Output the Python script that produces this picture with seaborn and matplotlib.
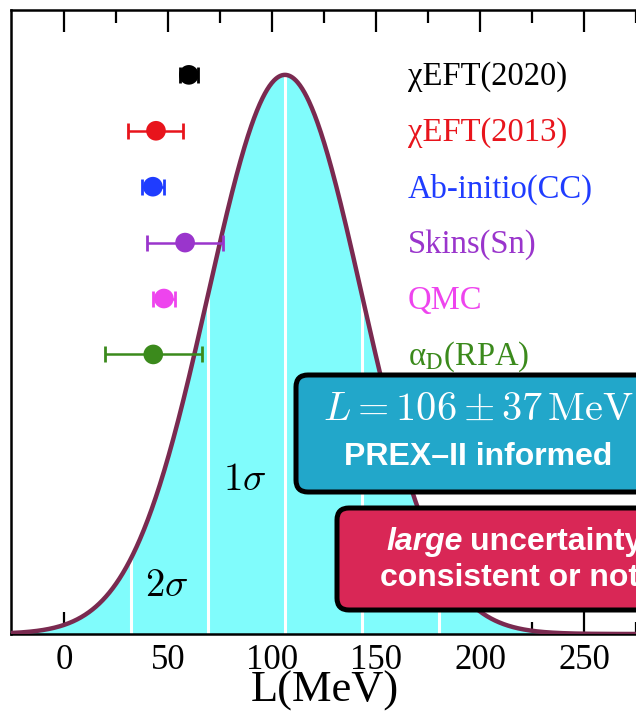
import numpy as np
import pandas as pd
import matplotlib
matplotlib.use("Agg")
import matplotlib.pyplot as plt
from matplotlib.patches import FancyBboxPatch
import seaborn as sns

# ---------------- data ----------------
L_MEAN = 106.0
L_SIGMA = 37.0
model_names = ["χEFT(2020)", "χEFT(2013)", "Ab-initio(CC)", "Skins(Sn)", "QMC",
               r"α$_{\mathrm{D}}$(RPA)"]
model_L = [59.8, 44.0, 42.5, 58.0, 47.8, 42.7]
model_err_lo = [4.2, 13.5, 5.2, 18.3, 5.4, 23.2]
model_err_hi = [4.2, 13.0, 5.3, 18.0, 5.5, 23.3]
model_rows = [1.0, 0.9, 0.8, 0.7, 0.6, 0.5]
model_colors = ["#000000", "#e8141c", "#1f3cff", "#9a35cc", "#ee44ee", "#3b8a1c"]
xticks = [0, 50, 100, 150, 200, 250]

# ---------------- style ----------------
sns.set_theme(style="white")
plt.rcParams["font.family"] = ["Liberation Serif", "DejaVu Serif"]
plt.rcParams["mathtext.fontset"] = "stix"
plt.rcParams["text.color"] = "black"
plt.rcParams["xtick.color"] = "black"
plt.rcParams["xtick.labelcolor"] = "black"

W, H = 636, 712
fig = plt.figure(figsize=(W / 100, H / 100), dpi=100)
fig.patch.set_facecolor("white")
ax = fig.add_axes([11 / W, (H - 634) / H, (688.5 - 11) / W, 624 / H])
ax.set_facecolor("white")

xs = np.linspace(-26, 300, 1200)
pdf = np.exp(-0.5 * ((xs - L_MEAN) / L_SIGMA) ** 2)
curve = pd.DataFrame({"L": xs, "p": pdf})

ax.fill_between(curve["L"], curve["p"], color="#80fcfc", lw=0, zorder=1)
for k in [-2, -1, 0, 1, 2]:
    xv = L_MEAN + k * L_SIGMA
    ax.vlines(xv, 0, np.exp(-0.5 * k * k), color="white", lw=2.2, zorder=2)
sns.lineplot(data=curve, x="L", y="p", ax=ax, color="#7a2a50", lw=3.2, zorder=3)

pts = pd.DataFrame({"L": model_L, "row": model_rows, "name": model_names})
for i in range(len(model_L)):
    ax.errorbar(model_L[i], model_rows[i],
                xerr=[[model_err_lo[i]], [model_err_hi[i]]],
                fmt="none", ecolor=model_colors[i], elinewidth=1.8,
                capsize=6, capthick=2.0, zorder=4)
sns.scatterplot(data=pts, x="L", y="row", hue="name", palette=model_colors,
                s=200, edgecolor="none", legend=False, ax=ax, zorder=5)
for i in range(len(model_L)):
    ax.text(165, model_rows[i] - 0.004, model_names[i], color=model_colors[i],
            fontsize=23.5, va="center", ha="left", family="Liberation Serif")

ax.text(86.5, 0.275, r"$1\sigma$", fontsize=28, ha="center", va="center",
        math_fontfamily="cm", color="black")
ax.text(49, 0.085, r"$2\sigma$", fontsize=28, ha="center", va="center",
        math_fontfamily="cm", color="black")

ax.set_xlim(-25.7, 300)
ax.set_ylim(0, 1.116)
ax.set_xticks(xticks)
ax.set_xticks(np.arange(25, 300, 50), minor=True)
ax.set_yticks([])
ax.tick_params(axis="x", which="both", direction="in", top=True, bottom=True,
               labelsize=25, width=1.6, pad=7, colors="black", labelcolor="black")
ax.tick_params(axis="x", which="major", length=16)
ax.tick_params(axis="x", which="minor", length=9)
for lbl in ax.get_xticklabels():
    lbl.set_family("Liberation Serif")
for s in ax.spines.values():
    s.set_linewidth(1.8)
    s.set_color("black")
ax.set_ylabel("")
ax.set_xlabel("")
fig.text(325 / W, 1 - 691 / H, "L(MeV)", fontsize=32, ha="center", va="center",
         family="Liberation Serif", color="black")

# ---------------- annotation boxes ----------------
def px(x, y):
    return x / 100, (H - y) / 100

tr = fig.dpi_scale_trans
bx, by = px(296, 492)
fig.add_artist(FancyBboxPatch((bx, by), 3.8, (492 - 375) / 100,
                              boxstyle="round,pad=0,rounding_size=0.12",
                              fc="#22a7ca", ec="black", lw=3.6, transform=tr))
fig.text(*px(478, 410), r"$L = 106 \pm 37\,\mathrm{MeV}$", transform=tr,
         fontsize=29, color="white", ha="center", va="center", math_fontfamily="cm")
fig.text(*px(478, 457), "PREX–II informed", transform=tr, fontsize=23,
         color="white", ha="center", va="center", weight="bold",
         family="Liberation Sans")

rx, ry = px(337, 610)
fig.add_artist(FancyBboxPatch((rx, ry), 3.5, (610 - 508) / 100,
                              boxstyle="round,pad=0,rounding_size=0.12",
                              fc="#d92756", ec="black", lw=3.6, transform=tr))
fig.text(*px(386, 542), "large", transform=tr, fontsize=23, color="white",
         ha="left", va="center", style="italic", weight="bold",
         family="Liberation Sans")
fig.text(*px(470, 542), "uncertainty:", transform=tr, fontsize=23, color="white",
         ha="left", va="center", weight="bold", family="Liberation Sans")
fig.text(*px(380, 578), "consistent or not", transform=tr, fontsize=23,
         color="white", ha="left", va="center", weight="bold",
         family="Liberation Sans")

fig.savefig("out.png", dpi=100)
